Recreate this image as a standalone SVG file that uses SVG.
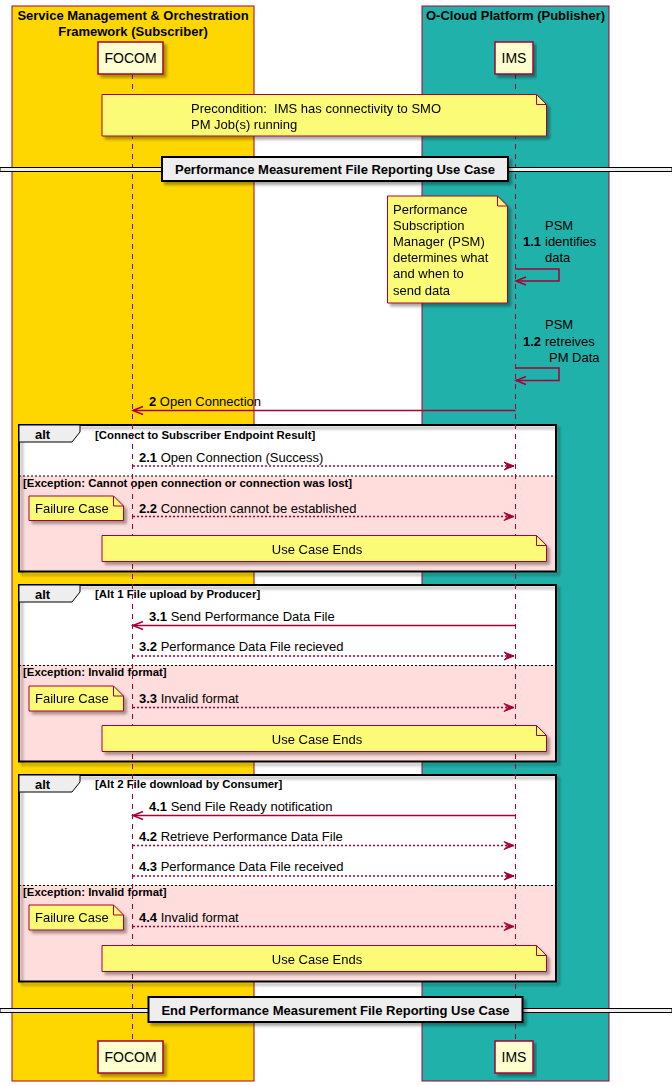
<svg xmlns="http://www.w3.org/2000/svg" width="672" height="1086" viewBox="0 0 672 1086">
<defs>
<style>
text{font-family:"Liberation Sans",Arial,sans-serif;fill:#000}
.t13{font-size:13px}
.b13{font-size:13px;font-weight:bold}
.b11{font-size:11.4px;font-weight:bold}
.p14{font-size:14px}
.part{fill:#FEFECE;stroke:#A80036;stroke-width:1.5}
.note{fill:#FBFB77;stroke:#A80036;stroke-width:1}
.fold{fill:none;stroke:#A80036;stroke-width:1}
.life{stroke:#A80036;stroke-width:1;stroke-dasharray:5,5;fill:none}
.msg{stroke:#A80036;stroke-width:1.5;fill:none}
.dot{stroke:#A80036;stroke-width:1.5;fill:none;stroke-dasharray:2,2}
.frame{fill:none;stroke:#000;stroke-width:2}
.sep{stroke:#000;stroke-width:1;stroke-dasharray:2,2}
.tab{fill:#EEEEEE;stroke:#000;stroke-width:1}
.div{fill:#EEEEEE;stroke:#000;stroke-width:2}
.dline{fill:#EEEEEE;stroke:#000;stroke-width:1}
</style>
<filter id="sh" x="-5%" y="-5%" width="115%" height="140%">
<feGaussianBlur in="SourceAlpha" stdDeviation="1.5"/>
<feOffset dx="3" dy="3" result="o"/>
<feComponentTransfer><feFuncA type="linear" slope="0.35"/></feComponentTransfer>
<feMerge><feMergeNode/><feMergeNode in="SourceGraphic"/></feMerge>
</filter>
<marker id="open" markerUnits="userSpaceOnUse" markerWidth="12" markerHeight="12" refX="10" refY="5" orient="auto" overflow="visible">
<path d="M0,1 L10,5 L0,9" fill="none" stroke="#A80036" stroke-width="1.5"/>
</marker>
<marker id="fill" markerUnits="userSpaceOnUse" markerWidth="12" markerHeight="12" refX="10" refY="5" orient="auto" overflow="visible">
<path d="M0,1 L10,5 L0,9 L4,5 Z" fill="#A80036" stroke="#A80036" stroke-width="1"/>
</marker>
</defs>

<g id="box-smo">
<rect x="12" y="6" width="242" height="1075" fill="#FFD700" stroke="#A80036" stroke-width="1"/>
<text class="b13" x="133" y="20" text-anchor="middle">Service Management &amp; Orchestration</text>
<text class="b13" x="133" y="36" text-anchor="middle">Framework (Subscriber)</text>
</g>
<g id="box-ocloud">
<rect x="422" y="6" width="187" height="1075" fill="#20B2AA" stroke="#A80036" stroke-width="1"/>
<text class="b13" x="515.5" y="20" text-anchor="middle">O-Cloud Platform (Publisher)</text>
</g>

<g id="frame1">
<rect x="19" y="425" width="537" height="51" fill="#FFFFFF"/>
<rect x="19" y="476" width="537" height="95.5" fill="#FFDDDD"/>
<rect x="19" y="425" width="537" height="146.5" class="frame" filter="url(#sh)"/>
<path class="tab" d="M19,425 H80 V432 L72,442 H19 Z"/>
<text class="b13" x="35" y="439">alt</text>
<text class="b11" x="95" y="439">[Connect to Subscriber Endpoint Result]</text>
<line class="sep" x1="19" y1="476" x2="556" y2="476"/>
<text class="b11" x="23" y="487">[Exception: Cannot open connection or connection was lost]</text>
</g>
<g id="frame2">
<rect x="19" y="585" width="537" height="80.5" fill="#FFFFFF"/>
<rect x="19" y="665.5" width="537" height="96" fill="#FFDDDD"/>
<rect x="19" y="585" width="537" height="176.5" class="frame" filter="url(#sh)"/>
<path class="tab" d="M19,585 H80 V592 L72,602 H19 Z"/>
<text class="b13" x="35" y="599">alt</text>
<text class="b11" x="95" y="598">[Alt 1 File upload by Producer]</text>
<line class="sep" x1="19" y1="665.5" x2="556" y2="665.5"/>
<text class="b11" x="23" y="676">[Exception: Invalid format]</text>
</g>
<g id="frame3">
<rect x="19" y="775" width="537" height="110.5" fill="#FFFFFF"/>
<rect x="19" y="885.5" width="537" height="96" fill="#FFDDDD"/>
<rect x="19" y="775" width="537" height="206.5" class="frame" filter="url(#sh)"/>
<path class="tab" d="M19,775 H80 V782 L72,792 H19 Z"/>
<text class="b13" x="35" y="789">alt</text>
<text class="b11" x="95" y="788">[Alt 2 File download by Consumer]</text>
<line class="sep" x1="19" y1="885.5" x2="556" y2="885.5"/>
<text class="b11" x="23" y="896">[Exception: Invalid format]</text>
</g>

<g id="lifelines">
<line class="life" x1="132.5" y1="74" x2="132.5" y2="1041"/>
<line class="life" x1="515.5" y1="74" x2="515.5" y2="1041"/>
</g>

<g id="connectors">
<polyline class="msg" points="515.5,269 559,269 559,281 516,281" marker-end="url(#open)"/>
<text class="t13" x="545" y="230">PSM</text>
<text class="b13" x="523" y="246">1.1</text><text class="t13" x="545" y="246">identifies</text>
<text class="t13" x="545" y="262">data</text>

<polyline class="msg" points="515.5,368 559,368 559,380.5 516,380.5" marker-end="url(#open)"/>
<text class="t13" x="545" y="329">PSM</text>
<text class="b13" x="523" y="345.5">1.2</text><text class="t13" x="545" y="345.5">retreives</text>
<text class="t13" x="549" y="362">PM Data</text>

<line class="msg" x1="515.5" y1="410.5" x2="133" y2="410.5" marker-end="url(#open)"/>
<text class="t13" x="149" y="406"><tspan font-weight="bold">2</tspan> Open Connection</text>

<line class="dot" x1="133" y1="466" x2="514" y2="466" marker-end="url(#fill)"/>
<text class="t13" x="139" y="462"><tspan font-weight="bold">2.1</tspan> Open Connection (Success)</text>

<line class="dot" x1="133" y1="516.5" x2="514" y2="516.5" marker-end="url(#fill)"/>
<text class="t13" x="139" y="512.5"><tspan font-weight="bold">2.2</tspan> Connection cannot be established</text>

<line class="msg" x1="515.5" y1="625.5" x2="133" y2="625.5" marker-end="url(#open)"/>
<text class="t13" x="149" y="620.5"><tspan font-weight="bold">3.1</tspan> Send Performance Data File</text>

<line class="dot" x1="133" y1="656" x2="514" y2="656" marker-end="url(#fill)"/>
<text class="t13" x="139" y="651"><tspan font-weight="bold">3.2</tspan> Performance Data File recieved</text>

<line class="dot" x1="133" y1="707.5" x2="514" y2="707.5" marker-end="url(#fill)"/>
<text class="t13" x="139" y="702.5"><tspan font-weight="bold">3.3</tspan> Invalid format</text>

<line class="msg" x1="515.5" y1="815.5" x2="133" y2="815.5" marker-end="url(#open)"/>
<text class="t13" x="149" y="810.5"><tspan font-weight="bold">4.1</tspan> Send File Ready notification</text>

<line class="dot" x1="133" y1="845.5" x2="514" y2="845.5" marker-end="url(#fill)"/>
<text class="t13" x="139" y="840.5"><tspan font-weight="bold">4.2</tspan> Retrieve Performance Data File</text>

<line class="dot" x1="133" y1="876" x2="514" y2="876" marker-end="url(#fill)"/>
<text class="t13" x="139" y="871"><tspan font-weight="bold">4.3</tspan> Performance Data File received</text>

<line class="dot" x1="133" y1="926.5" x2="514" y2="926.5" marker-end="url(#fill)"/>
<text class="t13" x="139" y="921.5"><tspan font-weight="bold">4.4</tspan> Invalid format</text>
</g>

<g id="note-precondition" filter="url(#sh)">
<path class="note" d="M102,94.5 H536.5 L546.5,104.5 V136 H102 Z"/>
<path class="fold" d="M536.5,94.5 V104.5 H546.5"/>
<text class="t13" x="191" y="113" style="white-space:pre">Precondition:  IMS has connectivity to SMO</text>
<text class="t13" x="191" y="129">PM Job(s) running</text>
</g>

<g id="note-psm" filter="url(#sh)">
<path class="note" d="M387.5,196 H497.5 L507.5,206 V303 H387.5 Z"/>
<path class="fold" d="M497.5,196 V206 H507.5"/>
<text class="t13" x="393" y="213.5">Performance</text>
<text class="t13" x="393" y="229.5">Subscription</text>
<text class="t13" x="393" y="246">Manager (PSM)</text>
<text class="t13" x="393" y="262">determines what</text>
<text class="t13" x="393" y="278">and when to</text>
<text class="t13" x="393" y="294.5">send data</text>
</g>

<g id="note-failure1" filter="url(#sh)">
<path class="note" d="M29,496 H113.5 L123.5,506 V520.5 H29 Z"/>
<path class="fold" d="M113.5,496 V506 H123.5"/>
<text class="t13" x="35" y="513">Failure Case</text>
</g>
<g id="note-end1" filter="url(#sh)">
<path class="note" d="M102,535.5 H536.5 L546.5,545.5 V561.5 H102 Z"/>
<path class="fold" d="M536.5,535.5 V545.5 H546.5"/>
<text class="t13" x="317" y="553.5" text-anchor="middle">Use Case Ends</text>
</g>

<g id="note-failure2" filter="url(#sh)">
<path class="note" d="M29,686 H113.5 L123.5,696 V711 H29 Z"/>
<path class="fold" d="M113.5,686 V696 H123.5"/>
<text class="t13" x="35" y="703">Failure Case</text>
</g>
<g id="note-end2" filter="url(#sh)">
<path class="note" d="M102,725.5 H536.5 L546.5,735.5 V751.5 H102 Z"/>
<path class="fold" d="M536.5,725.5 V735.5 H546.5"/>
<text class="t13" x="317" y="743.5" text-anchor="middle">Use Case Ends</text>
</g>

<g id="note-failure3" filter="url(#sh)">
<path class="note" d="M29,905 H113.5 L123.5,915 V930 H29 Z"/>
<path class="fold" d="M113.5,905 V915 H123.5"/>
<text class="t13" x="35" y="922">Failure Case</text>
</g>
<g id="note-end3" filter="url(#sh)">
<path class="note" d="M102,945.5 H536.5 L546.5,955.5 V971.5 H102 Z"/>
<path class="fold" d="M536.5,945.5 V955.5 H546.5"/>
<text class="t13" x="317" y="963.5" text-anchor="middle">Use Case Ends</text>
</g>

<g id="divider-start">
<rect class="dline" x="0" y="167.5" width="672" height="4"/>
<rect class="div" x="162" y="157" width="346" height="24" filter="url(#sh)"/>
<text class="b13" x="335" y="174" text-anchor="middle">Performance Measurement File Reporting Use Case</text>
</g>
<g id="divider-end">
<rect class="dline" x="0" y="1008.5" width="672" height="4"/>
<rect class="div" x="148.5" y="997" width="374" height="25" filter="url(#sh)"/>
<text class="b13" x="335.5" y="1014.5" text-anchor="middle">End Performance Measurement File Reporting Use Case</text>
</g>

<g id="FOCOM">
<rect class="part" x="98" y="42" width="65" height="32" filter="url(#sh)"/>
<text class="p14" x="130.5" y="63" text-anchor="middle">FOCOM</text>
<rect class="part" x="98" y="1041" width="65" height="32" filter="url(#sh)"/>
<text class="p14" x="130.5" y="1062" text-anchor="middle">FOCOM</text>
</g>
<g id="IMS">
<rect class="part" x="495" y="42" width="38" height="32" filter="url(#sh)"/>
<text class="p14" x="514" y="63" text-anchor="middle">IMS</text>
<rect class="part" x="495" y="1041" width="38" height="32" filter="url(#sh)"/>
<text class="p14" x="514" y="1062" text-anchor="middle">IMS</text>
</g>
</svg>
